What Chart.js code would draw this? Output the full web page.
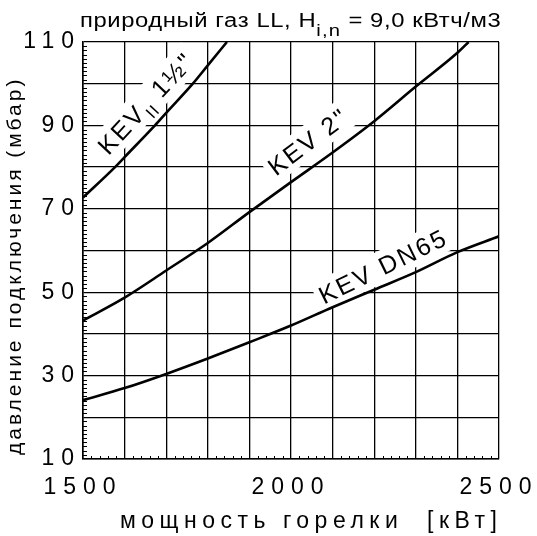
<!DOCTYPE html>
<html><head><meta charset="utf-8">
<script src="https://cdn.jsdelivr.net/npm/chart.js@4"></script>
<style>html,body{margin:0;padding:0;background:#fff}#wrap{width:537px;height:536px;position:relative}</style>
</head><body><div id="wrap"><canvas id="c"></canvas></div>
<script>
// ---- data ----
const powerKEV15 = [1500, 1577, 1600, 1673, 1700, 1764, 1800, 1846];
const pressKEV15 = [72.7, 80, 82.4, 90, 93.0, 100, 104.4, 110];

const powerKEV2 = [1500, 1600, 1700, 1800, 1900, 2000, 2100, 2200, 2300, 2400, 2427];
const pressKEV2 = [43.2, 48.7, 55.2, 61.8, 69.2, 76.4, 83.5, 91.0, 99.3, 107.4, 110];

const powerDN65 = [1500, 1600, 1700, 1800, 1900, 2000, 2100, 2200, 2300, 2400, 2500];
const pressDN65 = [24.1, 27.0, 30.4, 34.1, 38.0, 42.0, 46.4, 50.6, 54.8, 59.6, 63.4];

const xTickLabels = [1500, 2000, 2500];
const yTickLabels = [10, 30, 50, 70, 90, 110];

const titleParts = [['природный газ LL, H', false], ['i,n', true], [' = 9,0 кВтч/м3', false]];
const xTitle = 'мощность горелки  [кВт]';
const yTitle = 'давление подключения (мбар)';

const curveLabelTexts = [
  [['KEV', false], ['II', true], [' 1½"', false]],
  [['KEV 2"', false]],
  [['KEV DN65', false]]
];
// label anchors in data units + rotation
const curveLabelPlacement = [
  {x: 1651, y: 95.4, angle: -47},
  {x: 2041, y: 86.2, angle: -37},
  {x: 2221, y: 56.3, angle: -26}
];

const FONT = '"Liberation Sans", Arial, Helvetica, sans-serif';
const f = (s) => s + 'px ' + FONT;

function toPts(xs, ys) { return xs.map((x, i) => ({x, y: ys[i]})); }

function segWidths(ctx, parts, size, spacing, subScale) {
  return parts.map(([t, sub]) => {
    ctx.font = f(sub ? Math.round(size * subScale) : size);
    ctx.letterSpacing = (sub ? 1 : spacing) + 'px';
    return ctx.measureText(t).width;
  });
}
function drawParts(ctx, parts, size, spacing, x, y, subScale, subDrop) {
  const w = segWidths(ctx, parts, size, spacing, subScale);
  let cx = x;
  parts.forEach(([t, sub], i) => {
    ctx.font = f(sub ? Math.round(size * subScale) : size);
    ctx.letterSpacing = (sub ? 1 : spacing) + 'px';
    ctx.fillText(t, cx, y + (sub ? size * subDrop : 0));
    cx += w[i];
  });
  return w.reduce((a, b) => a + b, 0);
}

const minorTicks = {
  id: 'minorTicks',
  beforeDatasetsDraw(chart) {
    const {ctx, chartArea: a, scales: {x, y}} = chart;
    ctx.save();
    ctx.strokeStyle = '#000'; ctx.lineWidth = 1;
    ctx.beginPath();
    for (let v = 11; v < 110; v++) {
      if (v % 10 === 0) continue;
      const py = Math.round(y.getPixelForValue(v)) + 0.5;
      ctx.moveTo(a.left, py); ctx.lineTo(a.left + 4, py);
    }
    for (let v = 1520; v < 2500; v += 20) {
      if (v % 100 === 0) continue;
      const px = Math.round(x.getPixelForValue(v)) + 0.5;
      ctx.moveTo(px, a.bottom); ctx.lineTo(px, a.bottom - 3);
    }
    ctx.stroke();
    ctx.restore();
  }
};

const curveLabels = {
  id: 'curveLabels',
  beforeDatasetsDraw(chart) {
    const {ctx, scales: {x, y}} = chart;
    curveLabelTexts.forEach((parts, i) => {
      const p = curveLabelPlacement[i];
      const size = 25, spacing = 2.4;
      ctx.save();
      ctx.translate(x.getPixelForValue(p.x), y.getPixelForValue(p.y));
      ctx.rotate(p.angle * Math.PI / 180);
      const w = segWidths(ctx, parts, size, spacing, 0.66).reduce((a, b) => a + b, 0);
      ctx.fillStyle = '#fff';
      ctx.fillRect(-w / 2 - 4, -size * 0.62, w + 8, size * 1.24);
      ctx.fillStyle = '#000';
      ctx.textAlign = 'left'; ctx.textBaseline = 'alphabetic';
      drawParts(ctx, parts, size, spacing, -w / 2, size * 0.36, 0.66, 0.3);
      ctx.restore();
    });
  }
};

const textDecor = {
  id: 'textDecor',
  beforeDraw(chart) { chart.ctx.letterSpacing = '7px'; },
  afterDraw(chart) {
    const ctx = chart.ctx;
    ctx.save();
    ctx.fillStyle = '#000';
    ctx.textAlign = 'left'; ctx.textBaseline = 'alphabetic';
    // chart title (wide glyphs, like the reference)
    ctx.save();
    ctx.translate(80, 27);
    ctx.scale(1.19, 1);
    drawParts(ctx, titleParts, 20, 0.5, 0, 0, 0.85, 0.45);
    ctx.restore();
    // x axis title
    ctx.font = f(23); ctx.letterSpacing = '5.5px';
    ctx.fillText(xTitle, 120, 528);
    // y axis title
    ctx.save();
    ctx.translate(21, 455);
    ctx.rotate(-Math.PI / 2);
    ctx.font = f(21); ctx.letterSpacing = '3px';
    ctx.fillText(yTitle, 0, 0);
    ctx.restore();
    ctx.restore();
    ctx.letterSpacing = '0px';
  }
};

const lineStyle = {borderColor: '#000', borderWidth: 2.6, pointRadius: 0, fill: false, tension: 0.4, cubicInterpolationMode: 'monotone'};

new Chart(document.getElementById('c'), {
  type: 'line',
  data: {
    datasets: [
      Object.assign({label: 'KEV II 1½"', data: toPts(powerKEV15, pressKEV15)}, lineStyle),
      Object.assign({label: 'KEV 2"', data: toPts(powerKEV2, pressKEV2)}, lineStyle),
      Object.assign({label: 'KEV DN65', data: toPts(powerDN65, pressDN65)}, lineStyle)
    ]
  },
  options: {
    responsive: true, maintainAspectRatio: false, animation: false,
    layout: {padding: {left: 0, top: 42, right: 38, bottom: 0}},
    plugins: {legend: {display: false}, tooltip: {enabled: false}, title: {display: false}},
    scales: {
      x: {
        type: 'linear', min: 1500, max: 2500,
        grid: {color: '#000', lineWidth: 1.3, drawTicks: false},
        border: {display: true, color: '#000', width: 1.6},
        ticks: {stepSize: 100, autoSkip: false, maxRotation: 0, padding: 15, color: '#000',
          font: {family: FONT, size: 23},
          callback: (v) => xTickLabels.includes(v) ? String(v) : ''},
        afterFit(s) { s.height = 77; s.paddingLeft = 0; s.paddingRight = 0; }
      },
      y: {
        type: 'linear', min: 10, max: 110,
        grid: {color: '#000', lineWidth: 1.3, drawTicks: false},
        border: {display: true, color: '#000', width: 1.6},
        ticks: {stepSize: 10, autoSkip: false, padding: 2, color: '#000',
          font: {family: FONT, size: 23},
          callback: (v) => yTickLabels.includes(v) ? String(v) : ''},
        afterFit(s) { s.width = 83; s.paddingTop = 0; s.paddingBottom = 0; }
      }
    }
  },
  plugins: [minorTicks, curveLabels, textDecor]
});
</script>
</body></html>
